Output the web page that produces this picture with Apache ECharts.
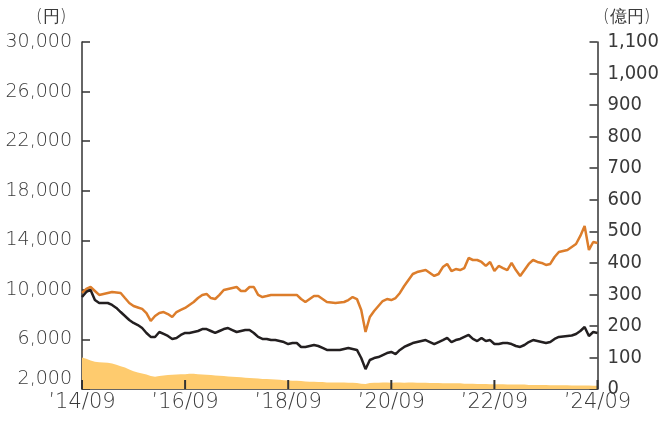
<!DOCTYPE html>
<html>
<head>
<meta charset="utf-8">
<script src="https://cdn.jsdelivr.net/npm/echarts@6/dist/echarts.min.js"></script>
<style>
html,body{margin:0;padding:0;background:#fff;}
#chart{width:662px;height:421px;}
</style>
</head>
<body>
<div id="chart"></div>
<script>
// Monthly categories 2014/09 .. 2024/09
var months = [];
for (var y = 2014, m = 9; y < 2024 || (y === 2024 && m <= 9); ) {
  months.push('\u2019' + String(y).slice(2) + '/' + (m < 10 ? '0' + m : m));
  m++; if (m > 12) { m = 1; y++; }
}
// x tick / label categories
var tickLabels = ['\u201914/09', '\u201916/09', '\u201918/09', '\u201920/09', '\u201922/09', '\u201924/09'];

// 分配金再投資基準価額 (orange, 円)
var reinvestNav = [
  9750,10070,10230,9910,9590,9670,9750,9830,9790,9750,
  9340,8940,8700,8580,8460,8130,7490,7890,8130,8210,
  8050,7810,8210,8380,8540,8780,9020,9340,9590,9670,
  9340,9260,9590,9990,10070,10150,10230,9910,9910,10230,
  10230,9590,9420,9500,9590,9590,9590,9590,9590,9590,
  9590,9260,9020,9260,9500,9500,9260,9020,8980,8940,
  8980,9020,9180,9420,9260,8380,6600,7810,8290,8700,
  9100,9260,9180,9340,9750,10310,10800,11280,11440,11520,
  11600,11360,11120,11280,11840,12090,11520,11680,11600,11760,
  12570,12410,12410,12250,11930,12250,11520,11930,11760,11600,
  12170,11600,11120,11600,12090,12410,12250,12170,12010,12090,
  12650,13060,13140,13220,13460,13700,14350,15150,13220,13860,
  13780
];

// 基準価額 (black, 円)
var nav = [
  9420,9830,9990,9180,8940,8940,8940,8780,8540,8210,
  7890,7570,7330,7160,6920,6520,6200,6200,6600,6440,
  6280,6040,6120,6360,6520,6520,6600,6680,6840,6840,
  6680,6520,6680,6840,6920,6760,6600,6680,6760,6760,
  6520,6200,6040,6040,5950,5950,5870,5790,5630,5710,
  5710,5390,5390,5470,5550,5470,5310,5150,5150,5150,
  5150,5230,5310,5230,5150,4500,3600,4340,4500,4580,
  4740,4900,4990,4820,5150,5390,5550,5710,5790,5870,
  5950,5790,5630,5790,5950,6120,5790,5950,6040,6200,
  6360,6040,5870,6120,5870,5950,5630,5630,5710,5710,
  5630,5470,5390,5550,5790,5950,5870,5790,5710,5790,
  6040,6200,6240,6280,6320,6440,6680,7000,6280,6600,
  6520
];

// 純資産総額 (area, 億円)
var netAssets = [
  100,96,90,86,85,84,83,81,77,72,
  68,62,56,52,49,46,41,39,41,43,
  44,45,46,47,47,48,48,47,46,45,
  44,43,42,41,40,39,38,37,36,35,
  34,33,32,32,31,30,29,28,27,26,
  26,25,24,23,23,22,22,21,21,21,
  21,21,20,20,19,17,16,19,20,20,
  21,21,20,21,21,20,21,21,20,20,
  20,19,19,19,18,18,18,18,18,17,
  17,17,16,16,16,15,15,15,15,14,
  14,14,14,14,13,13,13,13,13,12,
  12,12,12,12,11,11,11,11,11,10,
  10
];

var leftAxisName = '(円)';
var rightAxisName = '(億円)';

var fmt = function (v) { return Number(v).toLocaleString('en-US'); };
var textColor = '#3a3a3a';
var axisColor = '#333333';
var isTick = function (idx) { return tickLabels.indexOf(months[idx]) >= 0; };

var chart = echarts.init(document.getElementById('chart'), null, {renderer: 'canvas'});
chart.setOption({
  animation: false,
  backgroundColor: '#ffffff',
  grid: {left: 82, right: 47, top: 42, bottom: 32, containLabel: false},
  graphic: [
    {type: 'text', left: 36, top: 9, style: {text: leftAxisName, fill: textColor, font: '300 17px "DejaVu Sans"'}},
    {type: 'text', left: 603, top: 9, style: {text: rightAxisName, fill: textColor, font: '300 17px "DejaVu Sans"'}}
  ],
  xAxis: {
    type: 'category',
    data: months,
    boundaryGap: false,
    axisLine: {show: true, lineStyle: {color: axisColor, width: 1.5}},
    axisTick: {show: false},
    axisLabel: {interval: isTick, color: textColor, fontSize: 21, fontFamily: 'DejaVu Sans', fontWeight: 200, margin: 3,
                alignMinLabel: 'center', alignMaxLabel: 'center', hideOverlap: false},
    splitLine: {show: false}
  },
  yAxis: [
    {
      type: 'value', min: 2000, max: 30000, interval: 4000, position: 'left',
      axisLine: {show: true, lineStyle: {color: axisColor, width: 1.5}},
      axisTick: {show: true, inside: true, length: 8, lineStyle: {color: axisColor, width: 1.5}},
      axisLabel: {formatter: fmt, color: textColor, fontSize: 19, fontFamily: 'DejaVu Sans', fontWeight: 200, margin: 10,
                  verticalAlignMinLabel: 'bottom', hideOverlap: false},
      splitLine: {show: false}
    },
    {
      type: 'value', min: 0, max: 1100, interval: 100, position: 'right',
      axisLine: {show: true, lineStyle: {color: axisColor, width: 1.5}},
      axisTick: {show: true, inside: true, length: 8, lineStyle: {color: axisColor, width: 1.5}},
      axisLabel: {formatter: fmt, color: textColor, fontSize: 20, fontFamily: '"Liberation Sans Narrow", "DejaVu Sans Condensed", sans-serif', margin: 10, hideOverlap: false},
      splitLine: {show: false}
    }
  ],
  series: [
    {
      name: '純資産総額', type: 'line', yAxisIndex: 1, data: netAssets,
      symbol: 'none', lineStyle: {width: 0}, itemStyle: {color: '#FECB6E'},
      areaStyle: {color: '#FECB6E', opacity: 1}, z: 1
    },
    {
      name: '分配金再投資基準価額', type: 'line', yAxisIndex: 0, data: reinvestNav,
      symbol: 'none', lineStyle: {width: 2.5, color: '#DC7D2B'}, itemStyle: {color: '#DC7D2B'}, z: 3
    },
    {
      name: '基準価額', type: 'line', yAxisIndex: 0, data: nav,
      symbol: 'none', lineStyle: {width: 2.5, color: '#231F20'}, itemStyle: {color: '#231F20'}, z: 4
    },
    {
      name: 'xTicks', type: 'custom', yAxisIndex: 1, z: 10, silent: true, clip: false,
      encode: {x: 0, y: 1},
      data: tickLabels.map(function (t) { return [months.indexOf(t), 0]; }),
      renderItem: function (params, api) {
        var p = api.coord([api.value(0), api.value(1)]);
        return {type: 'rect', shape: {x: p[0] - 1, y: p[1] - 9, width: 2, height: 9},
                style: {fill: axisColor}};
      }
    }
  ]
});
</script>
</body>
</html>
